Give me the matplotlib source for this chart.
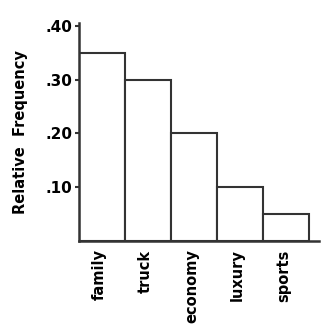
import numpy as np
import matplotlib
matplotlib.use('Agg')
import matplotlib.pyplot as plt

categories = ['family', 'truck', 'economy', 'luxury', 'sports']
rel_freq = [0.35, 0.30, 0.20, 0.10, 0.05]
yticks = [0.10, 0.20, 0.30, 0.40]
ytick_labels = ['.10', '.20', '.30', '.40']

plt.rcParams['font.family'] = 'DejaVu Sans'
plt.rcParams['font.weight'] = 'bold'

fig = plt.figure(figsize=(3.25, 3.29), dpi=100)
ax = fig.add_axes([0.243, 0.267, 0.739, 0.663])

x = np.arange(len(categories))
ax.bar(x, rel_freq, width=1.0, align='edge', color='white',
       edgecolor='#333333', linewidth=1.5)

ax.set_xlim(0, 5.22)
ax.set_ylim(0, 0.405)
ax.set_yticks(yticks)
ax.set_yticklabels(ytick_labels, fontsize=11, fontweight='bold')
ax.set_xticks(x + 0.45)
ax.set_xticklabels(categories, rotation=90, fontsize=10.5, fontweight='bold')
ax.tick_params(axis='x', length=0, pad=6)
ax.tick_params(axis='y', length=3, width=1.5, pad=2, color='#333333')

for s in ['top', 'right']:
    ax.spines[s].set_visible(False)
for s in ['left', 'bottom']:
    ax.spines[s].set_linewidth(1.8)
    ax.spines[s].set_color('#333333')

ax.set_ylabel('Relative  Frequency', fontsize=10.5, fontweight='bold', labelpad=12)

fig.savefig('out.png', dpi=100)
